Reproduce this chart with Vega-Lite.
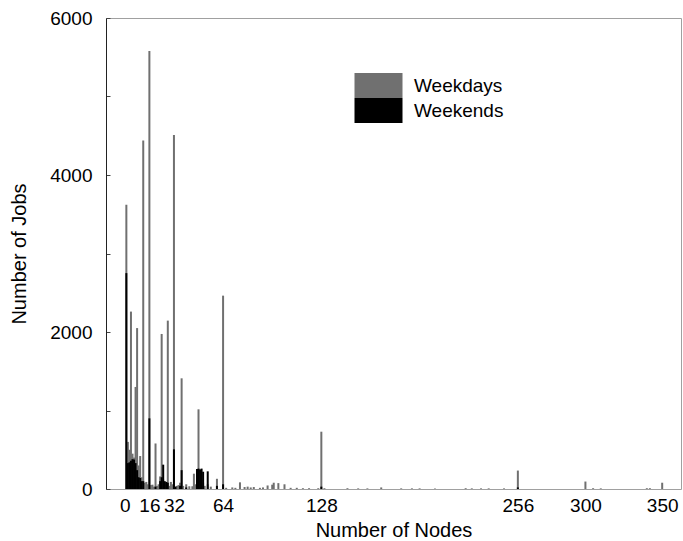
{
  "$schema": "https://vega.github.io/schema/vega-lite/v6.json",
  "width": 575,
  "height": 471,
  "autosize": {"type": "none"},
  "padding": {"left": 106, "top": 18, "right": 2, "bottom": 52},
  "background": "white",
  "config": {
    "font": "Liberation Sans",
    "view": {"stroke": "#a0a0a0", "strokeWidth": 1},
    "axis": {"grid": false, "labelColor": "#000", "titleColor": "#000", "labelFont": "Liberation Sans", "titleFont": "Liberation Sans", "labelFontSize": 19, "titleFontSize": 20, "titleFontWeight": "normal"}
  },
  "data": {
    "values": [
      {"nodes": 1, "jobs": 3620, "day": "Weekdays"},
      {"nodes": 2, "jobs": 600, "day": "Weekdays"},
      {"nodes": 3, "jobs": 500, "day": "Weekdays"},
      {"nodes": 4, "jobs": 2260, "day": "Weekdays"},
      {"nodes": 5, "jobs": 450, "day": "Weekdays"},
      {"nodes": 6, "jobs": 400, "day": "Weekdays"},
      {"nodes": 7, "jobs": 1300, "day": "Weekdays"},
      {"nodes": 8, "jobs": 2050, "day": "Weekdays"},
      {"nodes": 9, "jobs": 300, "day": "Weekdays"},
      {"nodes": 10, "jobs": 420, "day": "Weekdays"},
      {"nodes": 11, "jobs": 150, "day": "Weekdays"},
      {"nodes": 12, "jobs": 4440, "day": "Weekdays"},
      {"nodes": 13, "jobs": 80, "day": "Weekdays"},
      {"nodes": 14, "jobs": 90, "day": "Weekdays"},
      {"nodes": 15, "jobs": 60, "day": "Weekdays"},
      {"nodes": 16, "jobs": 5580, "day": "Weekdays"},
      {"nodes": 17, "jobs": 50, "day": "Weekdays"},
      {"nodes": 18, "jobs": 55, "day": "Weekdays"},
      {"nodes": 19, "jobs": 30, "day": "Weekdays"},
      {"nodes": 20, "jobs": 580, "day": "Weekdays"},
      {"nodes": 21, "jobs": 40, "day": "Weekdays"},
      {"nodes": 22, "jobs": 60, "day": "Weekdays"},
      {"nodes": 23, "jobs": 160, "day": "Weekdays"},
      {"nodes": 24, "jobs": 1975, "day": "Weekdays"},
      {"nodes": 25, "jobs": 120, "day": "Weekdays"},
      {"nodes": 26, "jobs": 80, "day": "Weekdays"},
      {"nodes": 27, "jobs": 60, "day": "Weekdays"},
      {"nodes": 28, "jobs": 2145, "day": "Weekdays"},
      {"nodes": 29, "jobs": 40, "day": "Weekdays"},
      {"nodes": 30, "jobs": 90, "day": "Weekdays"},
      {"nodes": 31, "jobs": 60, "day": "Weekdays"},
      {"nodes": 32, "jobs": 4510, "day": "Weekdays"},
      {"nodes": 33, "jobs": 30, "day": "Weekdays"},
      {"nodes": 34, "jobs": 40, "day": "Weekdays"},
      {"nodes": 35, "jobs": 50, "day": "Weekdays"},
      {"nodes": 36, "jobs": 80, "day": "Weekdays"},
      {"nodes": 37, "jobs": 1410, "day": "Weekdays"},
      {"nodes": 38, "jobs": 40, "day": "Weekdays"},
      {"nodes": 40, "jobs": 60, "day": "Weekdays"},
      {"nodes": 42, "jobs": 35, "day": "Weekdays"},
      {"nodes": 44, "jobs": 35, "day": "Weekdays"},
      {"nodes": 45, "jobs": 195, "day": "Weekdays"},
      {"nodes": 46, "jobs": 60, "day": "Weekdays"},
      {"nodes": 47, "jobs": 120, "day": "Weekdays"},
      {"nodes": 48, "jobs": 1015, "day": "Weekdays"},
      {"nodes": 49, "jobs": 100, "day": "Weekdays"},
      {"nodes": 50, "jobs": 120, "day": "Weekdays"},
      {"nodes": 51, "jobs": 80, "day": "Weekdays"},
      {"nodes": 52, "jobs": 40, "day": "Weekdays"},
      {"nodes": 54, "jobs": 60, "day": "Weekdays"},
      {"nodes": 56, "jobs": 30, "day": "Weekdays"},
      {"nodes": 60, "jobs": 130, "day": "Weekdays"},
      {"nodes": 64, "jobs": 2463, "day": "Weekdays"},
      {"nodes": 66, "jobs": 15, "day": "Weekdays"},
      {"nodes": 70, "jobs": 20, "day": "Weekdays"},
      {"nodes": 72, "jobs": 15, "day": "Weekdays"},
      {"nodes": 75, "jobs": 85, "day": "Weekdays"},
      {"nodes": 78, "jobs": 25, "day": "Weekdays"},
      {"nodes": 80, "jobs": 30, "day": "Weekdays"},
      {"nodes": 82, "jobs": 20, "day": "Weekdays"},
      {"nodes": 84, "jobs": 25, "day": "Weekdays"},
      {"nodes": 88, "jobs": 15, "day": "Weekdays"},
      {"nodes": 90, "jobs": 20, "day": "Weekdays"},
      {"nodes": 93, "jobs": 45, "day": "Weekdays"},
      {"nodes": 96, "jobs": 55, "day": "Weekdays"},
      {"nodes": 97, "jobs": 80, "day": "Weekdays"},
      {"nodes": 100, "jobs": 75, "day": "Weekdays"},
      {"nodes": 104, "jobs": 60, "day": "Weekdays"},
      {"nodes": 108, "jobs": 15, "day": "Weekdays"},
      {"nodes": 112, "jobs": 15, "day": "Weekdays"},
      {"nodes": 116, "jobs": 10, "day": "Weekdays"},
      {"nodes": 120, "jobs": 10, "day": "Weekdays"},
      {"nodes": 126, "jobs": 10, "day": "Weekdays"},
      {"nodes": 128, "jobs": 730, "day": "Weekdays"},
      {"nodes": 130, "jobs": 10, "day": "Weekdays"},
      {"nodes": 145, "jobs": 10, "day": "Weekdays"},
      {"nodes": 152, "jobs": 8, "day": "Weekdays"},
      {"nodes": 158, "jobs": 8, "day": "Weekdays"},
      {"nodes": 167, "jobs": 20, "day": "Weekdays"},
      {"nodes": 180, "jobs": 8, "day": "Weekdays"},
      {"nodes": 187, "jobs": 8, "day": "Weekdays"},
      {"nodes": 192, "jobs": 8, "day": "Weekdays"},
      {"nodes": 202, "jobs": 6, "day": "Weekdays"},
      {"nodes": 222, "jobs": 10, "day": "Weekdays"},
      {"nodes": 226, "jobs": 8, "day": "Weekdays"},
      {"nodes": 232, "jobs": 8, "day": "Weekdays"},
      {"nodes": 237, "jobs": 8, "day": "Weekdays"},
      {"nodes": 247, "jobs": 8, "day": "Weekdays"},
      {"nodes": 256, "jobs": 235, "day": "Weekdays"},
      {"nodes": 300, "jobs": 95, "day": "Weekdays"},
      {"nodes": 305, "jobs": 10, "day": "Weekdays"},
      {"nodes": 310, "jobs": 8, "day": "Weekdays"},
      {"nodes": 340, "jobs": 10, "day": "Weekdays"},
      {"nodes": 342, "jobs": 10, "day": "Weekdays"},
      {"nodes": 350, "jobs": 80, "day": "Weekdays"},
      {"nodes": 1, "jobs": 2750, "day": "Weekends"},
      {"nodes": 2, "jobs": 330, "day": "Weekends"},
      {"nodes": 3, "jobs": 340, "day": "Weekends"},
      {"nodes": 4, "jobs": 360, "day": "Weekends"},
      {"nodes": 5, "jobs": 380, "day": "Weekends"},
      {"nodes": 6, "jobs": 375, "day": "Weekends"},
      {"nodes": 7, "jobs": 330, "day": "Weekends"},
      {"nodes": 8, "jobs": 240, "day": "Weekends"},
      {"nodes": 9, "jobs": 150, "day": "Weekends"},
      {"nodes": 10, "jobs": 140, "day": "Weekends"},
      {"nodes": 11, "jobs": 100, "day": "Weekends"},
      {"nodes": 12, "jobs": 100, "day": "Weekends"},
      {"nodes": 16, "jobs": 900, "day": "Weekends"},
      {"nodes": 20, "jobs": 30, "day": "Weekends"},
      {"nodes": 23, "jobs": 100, "day": "Weekends"},
      {"nodes": 24, "jobs": 150, "day": "Weekends"},
      {"nodes": 25, "jobs": 310, "day": "Weekends"},
      {"nodes": 26, "jobs": 100, "day": "Weekends"},
      {"nodes": 27, "jobs": 90, "day": "Weekends"},
      {"nodes": 28, "jobs": 80, "day": "Weekends"},
      {"nodes": 32, "jobs": 505, "day": "Weekends"},
      {"nodes": 33, "jobs": 30, "day": "Weekends"},
      {"nodes": 36, "jobs": 40, "day": "Weekends"},
      {"nodes": 37, "jobs": 240, "day": "Weekends"},
      {"nodes": 40, "jobs": 20, "day": "Weekends"},
      {"nodes": 47, "jobs": 255, "day": "Weekends"},
      {"nodes": 48, "jobs": 260, "day": "Weekends"},
      {"nodes": 49, "jobs": 250, "day": "Weekends"},
      {"nodes": 50, "jobs": 260, "day": "Weekends"},
      {"nodes": 51, "jobs": 220, "day": "Weekends"},
      {"nodes": 54, "jobs": 225, "day": "Weekends"},
      {"nodes": 60, "jobs": 40, "day": "Weekends"},
      {"nodes": 64, "jobs": 60, "day": "Weekends"},
      {"nodes": 128, "jobs": 30, "day": "Weekends"},
      {"nodes": 256, "jobs": 20, "day": "Weekends"}
    ]
  },
  "mark": {"type": "bar", "orient": "vertical", "size": 2},
  "encoding": {
    "x": {
      "field": "nodes",
      "type": "quantitative",
      "scale": {"domain": [-9, 359], "nice": false, "zero": false},
      "axis": {
        "title": "Number of Nodes",
        "values": [0, 16, 32, 64, 128, 256, 300, 350],
        "domain": false,
        "ticks": false,
        "labelPadding": 7,
        "labelOverlap": false,
        "labelFlush": false,
        "titlePadding": 5
      }
    },
    "y": {
      "field": "jobs",
      "type": "quantitative",
      "stack": null,
      "scale": {"domain": [0, 6000], "nice": false},
      "axis": {
        "title": "Number of Jobs",
        "values": [0, 1000, 2000, 3000, 4000, 5000, 6000],
        "labelExpr": "datum.value % 2000 === 0 ? datum.label : ''",
        "format": "d",
        "domain": true,
        "domainColor": "#222",
        "ticks": true,
        "tickSize": -4,
        "tickColor": "#444",
        "labelPadding": 18,
        "titlePadding": 20
      }
    },
    "color": {
      "field": "day",
      "type": "nominal",
      "scale": {"domain": ["Weekdays", "Weekends"], "range": ["#707070", "#000000"]},
      "legend": {
        "title": null,
        "orient": "none",
        "legendX": 260,
        "legendY": 55,
        "padding": 0,
        "rowPadding": 0,
        "symbolType": "M-1.92,-1H1.92V1H-1.92Z",
        "symbolSize": 625,
        "symbolStrokeWidth": 0,
        "symbolOpacity": 1,
        "labelFont": "Liberation Sans",
        "labelFontSize": 19,
        "labelColor": "#000",
        "labelOffset": 23
      }
    }
  }
}
